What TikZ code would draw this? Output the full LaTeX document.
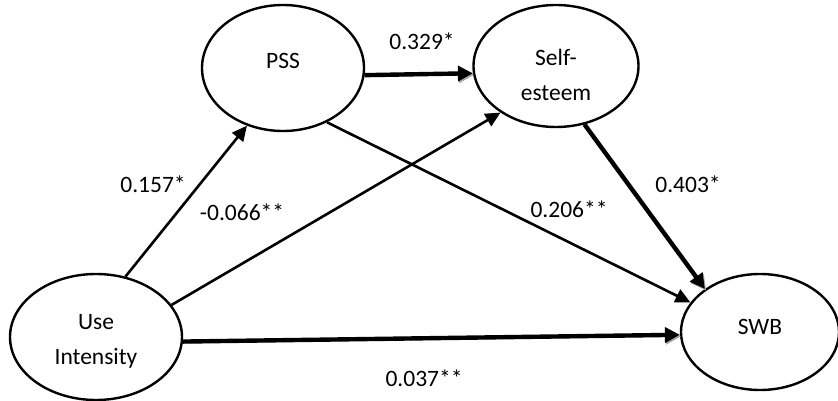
\documentclass[tikz,border=0pt]{standalone}
\usepackage{fontspec}
\setmainfont{Carlito}
\usepackage{tikz}
\usetikzlibrary{arrows.meta,shapes.geometric}

\tikzset{
  latent/.style={draw, ellipse, line width=2.4pt, inner sep=0pt},
  name text/.style={align=center, inner sep=0pt},
  effect/.style={line width=2.6pt, -{Triangle[length=15pt,width=14pt]}},
  strong/.style={line width=4.4pt, -{Triangle[length=15pt,width=15pt]},
    preaction={draw=black!35, transform canvas={shift={(1.2pt,-1.6pt)}}}},
  coef/.style={inner sep=0pt}
}

\begin{document}
\begin{tikzpicture}[x=1pt, y=-1pt, font=\fontsize{23.5}{35}\selectfont]
    \useasboundingbox (0,0) rectangle (838,401);
    \node[latent, minimum width=162pt, minimum height=126pt,
      label={[name text, name=pss-t, yshift=7pt]center:PSS}] (pss) at (283,68) {};
    \node[latent, minimum width=165pt, minimum height=122pt,
      label={[name text, name=se-t, yshift=-9pt]center:Self-\\esteem}] (se) at (556,66) {};
    \node[latent, minimum width=172pt, minimum height=126pt,
      label={[name text, name=ui-t, yshift=-4pt]center:Use\\Intensity}] (ui) at (96,337) {};
    \node[latent, minimum width=158pt, minimum height=116pt,
      label={[name text, name=swb-t, yshift=5pt]center:SWB}] (swb) at (760,332) {};

    \draw[effect] (ui.64.5) -- (pss.238);
    \draw[effect] (ui.23) -- (se.220);
    \draw[effect] (pss.-51.7) -- (swb.157);
    \draw[strong] (pss.-5) -- (se.185);
    \draw[strong] (se.-64) -- (swb.142.8);
    \draw[strong] (ui.-3) -- (swb.182);

    \node[coef] (b1) at (422,41) {0.329*};
    \node[coef] (b2) at (153,184) {0.157*};
    \node[coef] (b3) at (242,212) {-0.066**};
    \node[coef] (b4) at (569,209) {0.206**};
    \node[coef] (b5) at (688,184) {0.403*};
    \node[coef] (b6) at (424,378) {0.037**};
  \end{tikzpicture}
\end{document}
